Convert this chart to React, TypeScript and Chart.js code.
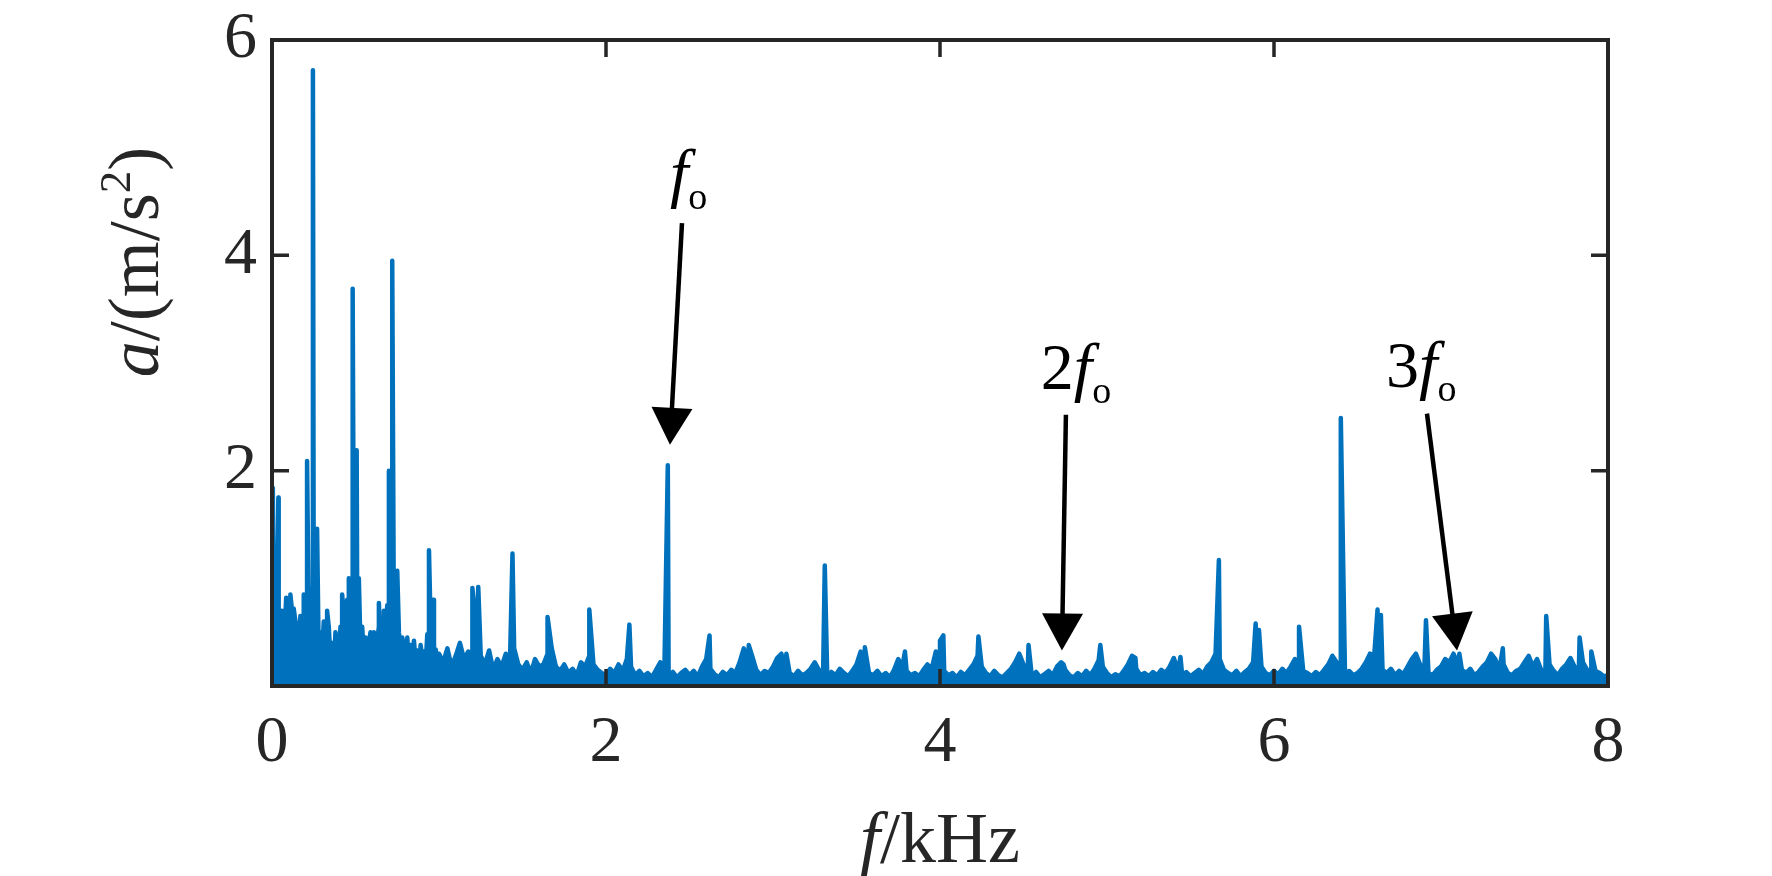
import React, { useEffect, useRef } from 'react';
import { Chart, registerables } from 'chart.js';

Chart.register(...registerables);

// ---- data ----
const xTickValues = [0, 2, 4, 6, 8];
const yTickValues = [0, 2, 4, 6];

// dense low-frequency floor, 0.00 .. 0.99 kHz, step 0.01 kHz
const lowNoiseStart = 0;
const lowNoiseStep = 0.01;
const lowNoise = [
  1.2, 0.9, 0.45, 0.6, 0.3, 0.5, 0.7, 0.35, 0.65, 0.3,
  0.55, 0.25, 0.7, 0.4, 0.6, 0.22, 0.45, 0.65, 0.3, 0.5,
  0.35, 0.75, 0.55, 0.45, 0.9, 0.6, 0.4, 0.55, 0.25, 0.5,
  0.3, 0.6, 0.18, 0.45, 0.55, 0.25, 0.4, 0.15, 0.5, 0.35,
  0.22, 0.55, 0.4, 0.65, 0.45, 0.8, 0.55, 0.7, 0.45, 0.95,
  0.6, 0.85, 0.5, 0.35, 0.55, 0.28, 0.45, 0.22, 0.4, 0.5,
  0.3, 0.5, 0.2, 0.42, 0.55, 0.35, 0.5, 0.6, 0.4, 0.75,
  0.55, 0.9, 0.65, 0.5, 0.7, 0.4, 0.5, 0.3, 0.45, 0.35,
  0.25, 0.45, 0.2, 0.38, 0.28, 0.42, 0.22, 0.33, 0.18, 0.38,
  0.25, 0.32, 0.2, 0.48, 0.35, 0.55, 0.3, 0.24, 0.34, 0.22,
];

// floor from 1.0 to 8.0 kHz, step 0.025 kHz
const highNoiseStart = 1.0;
const highNoiseStep = 0.025;
const highNoise = [
  0.3, 0.22, 0.35, 0.18, 0.28, 0.4, 0.25, 0.32, 0.2, 0.45,
  0.28, 0.2, 0.33, 0.15, 0.25, 0.18, 0.3, 0.22, 0.35, 0.2,
  0.15, 0.22, 0.12, 0.25, 0.18, 0.2, 0.3, 0.35, 0.18, 0.14,
  0.2, 0.12, 0.16, 0.1, 0.22, 0.18, 0.28, 0.2, 0.15, 0.12,
  0.1, 0.16, 0.12, 0.2, 0.14, 0.25, 0.18, 0.1, 0.14, 0.09,
  0.12, 0.08, 0.15, 0.22, 0.18, 0.1, 0.13, 0.08, 0.12, 0.15,
  0.1, 0.14, 0.09, 0.18, 0.25, 0.16, 0.11, 0.08, 0.13, 0.1,
  0.15, 0.12, 0.22, 0.35, 0.2, 0.28, 0.15, 0.1, 0.14, 0.12,
  0.18, 0.26, 0.3, 0.16, 0.12, 0.09, 0.14, 0.1, 0.12, 0.16,
  0.22, 0.15, 0.12, 0.08, 0.13, 0.1, 0.16, 0.12, 0.09, 0.14,
  0.2, 0.32, 0.18, 0.12, 0.1, 0.14, 0.09, 0.12, 0.08, 0.15,
  0.25, 0.18, 0.14, 0.1, 0.12, 0.09, 0.15, 0.2, 0.16, 0.32,
  0.22, 0.14, 0.1, 0.12, 0.08, 0.13, 0.1, 0.15, 0.2, 0.28,
  0.18, 0.12, 0.09, 0.14, 0.1, 0.08, 0.12, 0.16, 0.22, 0.3,
  0.2, 0.12, 0.09, 0.13, 0.08, 0.11, 0.14, 0.1, 0.18, 0.22,
  0.15, 0.1, 0.08, 0.12, 0.09, 0.14, 0.1, 0.16, 0.24, 0.18,
  0.12, 0.08, 0.11, 0.09, 0.14, 0.2, 0.28, 0.16, 0.1, 0.12,
  0.09, 0.13, 0.1, 0.15, 0.12, 0.18, 0.26, 0.14, 0.1, 0.13,
  0.09, 0.12, 0.15, 0.11, 0.18, 0.22, 0.3, 0.25, 0.15, 0.12,
  0.1, 0.14, 0.09, 0.13, 0.16, 0.22, 0.3, 0.18, 0.12, 0.1,
  0.14, 0.11, 0.16, 0.12, 0.18, 0.25, 0.2, 0.14, 0.12, 0.09,
  0.13, 0.1, 0.15, 0.2, 0.28, 0.22, 0.16, 0.12, 0.14, 0.1,
  0.12, 0.16, 0.22, 0.3, 0.28, 0.2, 0.15, 0.12, 0.16, 0.1,
  0.14, 0.11, 0.18, 0.25, 0.3, 0.2, 0.14, 0.12, 0.1, 0.15,
  0.18, 0.25, 0.22, 0.3, 0.2, 0.15, 0.12, 0.16, 0.1, 0.13,
  0.18, 0.22, 0.3, 0.25, 0.15, 0.2, 0.12, 0.1, 0.14, 0.16,
  0.22, 0.28, 0.18, 0.25, 0.15, 0.12, 0.2, 0.14, 0.1, 0.16,
  0.2, 0.26, 0.18, 0.12, 0.22, 0.15, 0.1, 0.14, 0.12, 0.09,
  0.1,
];

// spectral lines (kHz) and their amplitudes (m/s^2)
const peakFreqs = [
  0.005, 0.038, 0.085, 0.11, 0.13, 0.19, 0.21, 0.245, 0.27, 0.33,
  0.42, 0.46, 0.483, 0.507, 0.52, 0.64, 0.67, 0.7, 0.72, 0.75,
  0.94, 0.965, 1.2, 1.235, 1.44, 1.65, 1.9, 2.14, 2.37, 2.62,
  2.855, 3.08, 3.31, 3.55, 3.79, 4.0, 4.02, 4.23, 4.53, 4.74,
  4.96, 5.17, 5.44, 5.67, 5.89, 5.91, 6.15, 6.4, 6.62, 6.64,
  6.91, 7.11, 7.37, 7.63, 7.83, 7.9,
];
const peakAmps = [
  1.84, 1.75, 0.82, 0.85, 0.72, 0.85, 2.09, 5.72, 1.46, 0.7,
  0.85, 1.0, 3.69, 2.19, 1.0, 0.77, 0.7, 2.0, 3.95, 1.07,
  1.26, 0.8, 0.91, 0.92, 1.23, 0.64, 0.71, 0.57, 2.05, 0.47,
  0.38, 0.3, 1.12, 0.36, 0.32, 0.42, 0.47, 0.46, 0.38, 0.2,
  0.38, 0.26, 0.27, 1.17, 0.58, 0.52, 0.55, 2.49, 0.71, 0.66,
  0.61, 0.3, 0.35, 0.65, 0.45, 0.32,
];

// harmonic annotations: coefficient, text anchor, arrow tail, arrow tip (data units)
const annoCoef = ['', '2', '3'];
const annoTextAt = [[2.383, 4.56], [4.604, 2.76], [6.671, 2.78]];
const annoTail = [[2.455, 4.3], [4.754, 2.52], [6.916, 2.53]];
const annoTip = [[2.383, 2.24], [4.73, 0.33], [7.096, 0.33]];

// ---- styles ----
const LINE_COLOR = '#0072BD';
const AXIS_COLOR = '#262626';
const SERIF = "'Liberation Serif', 'Times New Roman', Times, serif";
const TICK_FONT = 66;
const LABEL_FONT = 72;

function buildPoints() {
  const pts: { x: number; y: number }[] = [];
  lowNoise.forEach((v, i) => pts.push({ x: +(lowNoiseStart + i * lowNoiseStep).toFixed(4), y: v }));
  highNoise.forEach((v, i) => pts.push({ x: +(highNoiseStart + i * highNoiseStep).toFixed(4), y: v }));
  peakFreqs.forEach((f, i) => pts.push({ x: f, y: peakAmps[i] }));
  pts.sort((a, b) => a.x - b.x);
  return pts;
}

function drawSegments(
  ctx: CanvasRenderingContext2D,
  segs: { t: string; font: string; dy?: number }[],
  x: number,
  y: number,
  center: boolean
) {
  let total = 0;
  for (const s of segs) {
    ctx.font = s.font;
    total += ctx.measureText(s.t).width;
  }
  let cx = center ? x - total / 2 : x;
  for (const s of segs) {
    ctx.font = s.font;
    ctx.fillText(s.t, cx, y + (s.dy || 0));
    cx += ctx.measureText(s.t).width;
  }
}

const overlayPlugin = {
  id: 'overlay',
  afterDatasetsDraw(chart: any) {
    const { ctx, chartArea, scales } = chart;
    const { left, right, top, bottom } = chartArea;
    const xs = scales.x;
    const ys = scales.y;
    ctx.save();

    // box
    ctx.strokeStyle = AXIS_COLOR;
    ctx.lineWidth = 4;
    ctx.lineJoin = 'miter';
    ctx.strokeRect(left, top, right - left, bottom - top);

    // inward ticks on all four sides
    const TL = 17;
    ctx.lineWidth = 3.5;
    ctx.beginPath();
    for (const v of xTickValues) {
      if (v === xs.min || v === xs.max) continue;
      const px = xs.getPixelForValue(v);
      ctx.moveTo(px, top);
      ctx.lineTo(px, top + TL);
      ctx.moveTo(px, bottom);
      ctx.lineTo(px, bottom - TL);
    }
    for (const v of yTickValues) {
      if (v === ys.min || v === ys.max) continue;
      const py = ys.getPixelForValue(v);
      ctx.moveTo(left, py);
      ctx.lineTo(left + TL, py);
      ctx.moveTo(right, py);
      ctx.lineTo(right - TL, py);
    }
    ctx.stroke();

    // annotations
    ctx.fillStyle = '#000';
    ctx.strokeStyle = '#000';
    ctx.textBaseline = 'alphabetic';
    ctx.textAlign = 'left';
    for (let i = 0; i < annoCoef.length; i++) {
      const tx = xs.getPixelForValue(annoTextAt[i][0]);
      const ty = ys.getPixelForValue(annoTextAt[i][1]);
      const segs: { t: string; font: string; dy?: number }[] = [];
      if (annoCoef[i]) segs.push({ t: annoCoef[i], font: `66px ${SERIF}` });
      segs.push({ t: 'f', font: `italic 66px ${SERIF}` });
      segs.push({ t: 'o', font: `38px ${SERIF}`, dy: 14 });
      drawSegments(ctx, segs, tx, ty, false);

      const x0 = xs.getPixelForValue(annoTail[i][0]);
      const y0 = ys.getPixelForValue(annoTail[i][1]);
      const x1 = xs.getPixelForValue(annoTip[i][0]);
      const y1 = ys.getPixelForValue(annoTip[i][1]);
      const dx = x1 - x0;
      const dy = y1 - y0;
      const len = Math.hypot(dx, dy);
      const ux = dx / len;
      const uy = dy / len;
      const HL = 37;
      const HW = 20.5;
      const bx = x1 - ux * HL;
      const by = y1 - uy * HL;
      ctx.lineWidth = 4.5;
      ctx.lineCap = 'butt';
      ctx.beginPath();
      ctx.moveTo(x0, y0);
      ctx.lineTo(bx + ux * 2, by + uy * 2);
      ctx.stroke();
      ctx.beginPath();
      ctx.moveTo(x1, y1);
      ctx.lineTo(bx - uy * HW, by + ux * HW);
      ctx.lineTo(bx + uy * HW, by - ux * HW);
      ctx.closePath();
      ctx.fill();
    }

    // axis titles
    ctx.fillStyle = AXIS_COLOR;
    drawSegments(
      ctx,
      [
        { t: 'f', font: `italic ${LABEL_FONT}px ${SERIF}` },
        { t: '/kHz', font: `${LABEL_FONT}px ${SERIF}` },
      ],
      (left + right) / 2,
      862,
      true
    );
    ctx.save();
    ctx.translate(158, 262);
    ctx.rotate(-Math.PI / 2);
    drawSegments(
      ctx,
      [
        { t: 'a', font: `italic ${LABEL_FONT}px ${SERIF}` },
        { t: '/(m/s', font: `${LABEL_FONT}px ${SERIF}` },
        { t: '2', font: `${Math.round(LABEL_FONT * 0.62)}px ${SERIF}`, dy: -28 },
        { t: ')', font: `${LABEL_FONT}px ${SERIF}` },
      ],
      0,
      0,
      true
    );
    ctx.restore();

    ctx.restore();
  },
};

export default function App() {
  const canvasRef = useRef<HTMLCanvasElement | null>(null);

  useEffect(() => {
    const canvas = canvasRef.current;
    if (!canvas) return;
    const chart = new Chart(canvas, {
      type: 'line',
      data: {
        datasets: [
          {
            data: buildPoints(),
            borderColor: LINE_COLOR,
            backgroundColor: LINE_COLOR,
            borderWidth: 4.5,
            borderJoinStyle: 'round',
            borderCapStyle: 'round',
            pointRadius: 0,
            fill: 'origin',
            tension: 0,
          },
        ],
      },
      options: {
        animation: false,
        responsive: false,
        devicePixelRatio: 1,
        parsing: false,
        normalized: true,
        layout: { padding: { top: 40, right: 164, left: 0, bottom: 0 } },
        plugins: { legend: { display: false }, tooltip: { enabled: false } },
        events: [],
        scales: {
          x: {
            type: 'linear',
            min: 0,
            max: 8,
            afterFit: (s: any) => {
              s.height = 190;
              s.paddingLeft = 0;
              s.paddingRight = 0;
            },
            afterBuildTicks: (s: any) => {
              s.ticks = xTickValues.map((v) => ({ value: v }));
            },
            ticks: {
              autoSkip: false,
              maxRotation: 0,
              padding: 18,
              color: AXIS_COLOR,
              font: { family: SERIF, size: TICK_FONT },
            },
            grid: { display: false, drawTicks: false },
            border: { display: false },
          },
          y: {
            type: 'linear',
            min: 0,
            max: 6,
            afterFit: (s: any) => {
              s.width = 272;
              s.paddingTop = 0;
              s.paddingBottom = 0;
            },
            afterBuildTicks: (s: any) => {
              s.ticks = yTickValues.map((v) => ({ value: v }));
            },
            ticks: {
              autoSkip: false,
              padding: 15,
              color: AXIS_COLOR,
              font: { family: SERIF, size: TICK_FONT },
              callback: (v: any) => (v === 0 ? '' : String(v)),
            },
            grid: { display: false, drawTicks: false },
            border: { display: false },
          },
        },
      },
      plugins: [overlayPlugin],
    } as any);
    return () => chart.destroy();
  }, []);

  return (
    <div style={{ position: 'absolute', left: 0, top: 0, width: 1772, height: 876, background: '#fff' }}>
      <canvas ref={canvasRef} width={1772} height={876} style={{ width: 1772, height: 876, display: 'block' }} />
    </div>
  );
}
